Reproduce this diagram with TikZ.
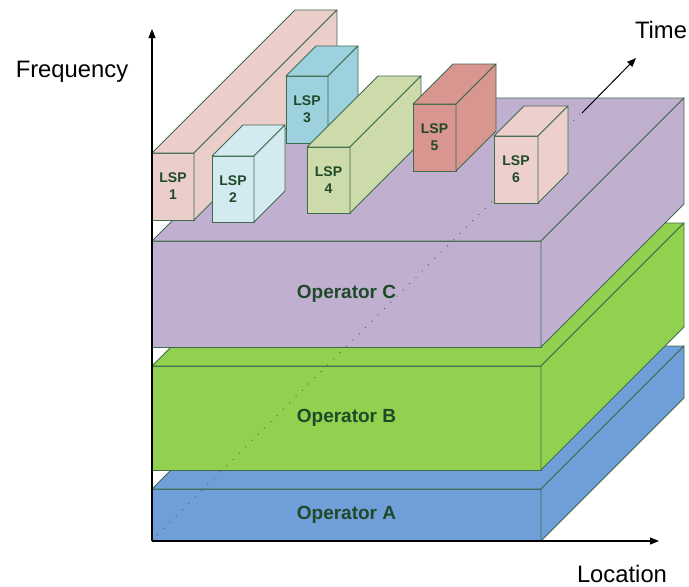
\documentclass[tikz,border=0pt]{standalone}
\usepackage{fontspec}
\setmainfont{Liberation Sans}
\usetikzlibrary{arrows.meta}

\definecolor{edgegreen}{HTML}{3D6B4D}
\definecolor{labelgreen}{HTML}{1E4A2A}
\definecolor{lsppink}{HTML}{EBCDCA}
\definecolor{lsppinklight}{HTML}{EDCFCC}
\definecolor{lspblue}{HTML}{D3EBF0}
\definecolor{lspteal}{HTML}{9DD1DD}
\definecolor{lspgreen}{HTML}{CDDBAA}
\definecolor{lspred}{HTML}{D9958F}
\definecolor{opC}{HTML}{C1AFD0}
\definecolor{opB}{HTML}{92D050}
\definecolor{opA}{HTML}{6F9ED9}

\tikzset{
  face/.style={draw=edgegreen, line width=0.9pt, inner sep=0pt, outer sep=0pt,
    text=labelgreen, align=center},
  facedge/.style={draw=edgegreen, line width=0.9pt, line join=round},
  lsptext/.style={font=\bfseries\fontsize{14}{17}\selectfont},
  optext/.style={font=\bfseries\fontsize{19}{22}\selectfont},
  axis/.style={line width=1.1pt, -{Triangle[length=9pt,width=7pt]}},
  caption/.style={font=\fontsize{23.8}{27}\selectfont, inner sep=0pt},
  timeline/.style={line width=0.9pt, gray!70!black, dash pattern=on 0.9pt off 8pt}
}

% cuboid: name, x, y (front top-left), width, height, depth, fill, text style, text
\newcommand{\cuboid}[9]{%
  \node[face, #8, fill=#7, minimum width=#4pt, minimum height=#5pt, anchor=north west]
    (#1) at (#2,#3) {#9};
  \filldraw[facedge, fill=#7] (#1.north west) -- ([shift={(#6,-#6)}]#1.north west)
    -- ([shift={(#6,-#6)}]#1.north east) -- (#1.north east) -- cycle;
  \filldraw[facedge, fill=#7] (#1.north east) -- ([shift={(#6,-#6)}]#1.north east)
    -- ([shift={(#6,-#6)}]#1.south east) -- (#1.south east) -- cycle;
}

\begin{document}
\begin{tikzpicture}[x=1pt, y=-1pt]
\useasboundingbox (0,0) rectangle (689,587);

% operator layers, bottom to top
\cuboid{opa}{152}{489}{389}{52}{143}{opA}{optext}{Operator A}
\cuboid{opb}{152}{366}{389}{104}{143}{opB}{optext}{Operator B}
\cuboid{opc}{152}{241}{389}{106}{143}{opC}{optext}{Operator C}

% time direction
\coordinate (t0) at (157,535);
\coordinate (t1) at (580,114);
\coordinate (t2) at (636,58);
\draw[timeline] (t0) -- (t1);

% label switched paths
\cuboid{lsp1}{152}{153}{42}{67}{143}{lsppink}{lsptext}{LSP\\1}
\cuboid{lsp3}{286}{76}{42}{67}{30}{lspteal}{lsptext}{LSP\\3}
\cuboid{lsp2}{212}{156}{42}{66}{31}{lspblue}{lsptext}{LSP\\2}
\cuboid{lsp4}{307}{147}{43}{66}{71}{lspgreen}{lsptext}{LSP\\4}
\cuboid{lsp5}{413}{104}{43}{67}{40}{lspred}{lsptext}{LSP\\5}
\cuboid{lsp6}{494}{136}{44}{67}{30}{lsppinklight}{lsptext}{LSP\\6}

\draw[line width=1pt, -{Triangle[length=9pt,width=7pt]}] ([shift={(2,-1)}]t1) -- (t2);

% axes
\coordinate (origin) at (152,541);
\coordinate (ftop) at (152,29);
\coordinate (lend) at (659,541);
\draw[axis] (origin) -- (ftop);
\draw[axis] (origin) -- (lend);

\node[caption] (freq) at (72,72) {Frequency};
\node[caption] (time) at (661,30) {Time};
\node[caption] (loc) at (622,574) {Location};
\end{tikzpicture}
\end{document}
